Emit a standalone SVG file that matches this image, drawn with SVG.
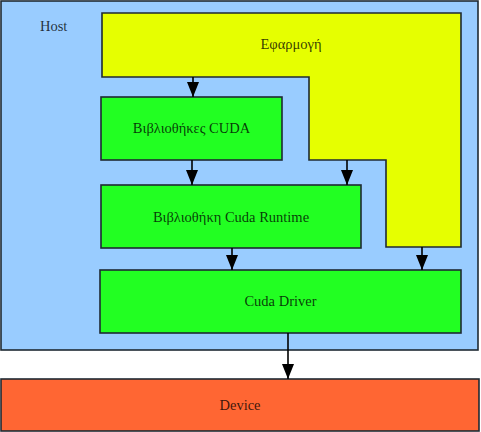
<svg xmlns="http://www.w3.org/2000/svg" width="481" height="432" viewBox="0 0 481 432">
<style>
.box{stroke:#1f2a33;stroke-width:1.6}
.host{fill:#99ccff}
.app{fill:#e6ff00}
.lib{fill:#22ff22}
.dev{fill:#ff6633}
text{font-family:"Liberation Serif","Times New Roman",serif;font-size:14.5px;fill:#000;fill-opacity:0.78}
.c{text-anchor:middle}
.conn line{stroke:#000;stroke-width:1.6}
</style>
<defs>
<marker id="ah" viewBox="0 0 15 12" refX="15" refY="6" markerWidth="15" markerHeight="12" markerUnits="userSpaceOnUse" orient="auto">
<path d="M0,0 L15,6 L0,12 Z" fill="#000"/>
</marker>
</defs>
<g id="host">
<rect class="box host" x="1" y="1" width="477" height="349"/>
<text x="40" y="31">Host</text>
</g>
<g id="device">
<rect class="box dev" x="1" y="379" width="478" height="52"/>
<text class="c" x="240" y="410">Device</text>
</g>
<g id="app">
<path class="box app" d="M102,13 L461,13 L461,247 L386,247 L386,160 L309,160 L309,77 L102,77 Z"/>
<text class="c" x="291" y="49">Εφαρμογή</text>
</g>
<g id="cudalibs">
<rect class="box lib" x="101" y="97" width="181" height="63"/>
<text class="c" x="191.5" y="133">Βιβλιοθήκες CUDA</text>
</g>
<g id="runtime">
<rect class="box lib" x="101" y="185" width="260" height="63"/>
<text class="c" x="231" y="222">Βιβλιοθήκη Cuda Runtime</text>
</g>
<g id="driver">
<rect class="box lib" x="100" y="270" width="361" height="63"/>
<text class="c" x="280.5" y="306">Cuda Driver</text>
</g>
<g class="conn" id="connectors">
<line x1="193" y1="77" x2="193" y2="97" marker-end="url(#ah)"/>
<line x1="192" y1="160" x2="192" y2="185" marker-end="url(#ah)"/>
<line x1="347" y1="160" x2="347" y2="185" marker-end="url(#ah)"/>
<line x1="232" y1="248" x2="232" y2="270" marker-end="url(#ah)"/>
<line x1="422" y1="247" x2="422" y2="270" marker-end="url(#ah)"/>
<line x1="288" y1="333" x2="288" y2="379" marker-end="url(#ah)"/>
</g>
</svg>
